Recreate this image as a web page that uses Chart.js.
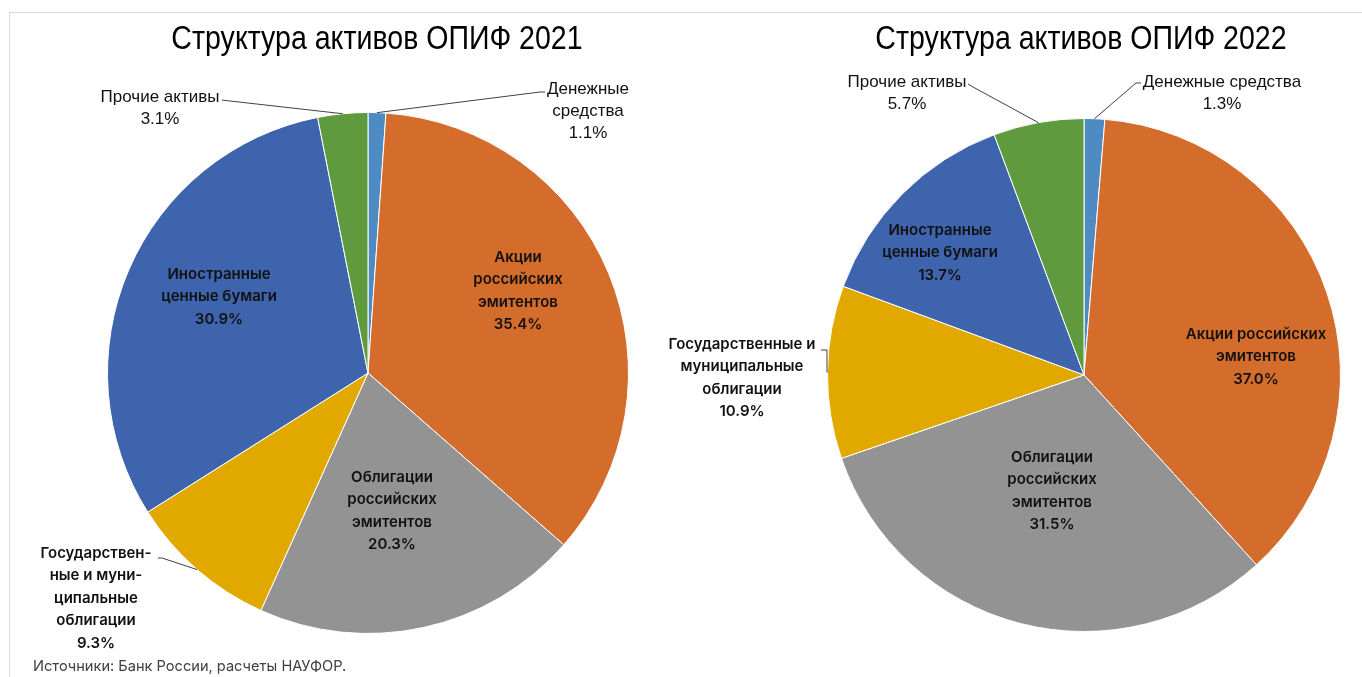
<!DOCTYPE html>
<html>
<head>
<meta charset="utf-8">
<script src="https://cdn.jsdelivr.net/npm/chart.js@4.4.1/dist/chart.umd.min.js"></script>
<style>
  html,body{margin:0;padding:0;background:#fff;width:1362px;height:677px;overflow:hidden;}
  #frame{position:absolute;left:9px;top:12px;width:1400px;height:700px;border-left:1px solid #d9d9d9;border-top:1px solid #d9d9d9;}
  .wrap{position:absolute;top:0;height:677px;}
  .title{position:absolute;top:19px;font-family:"Liberation Sans",sans-serif;font-size:33px;color:#000;white-space:nowrap;transform:translateX(-50%) scaleX(0.865);transform-origin:50% 50%;}
  #src{position:absolute;left:33px;top:657px;font-family:"Inter","Roboto",sans-serif;font-size:14.6px;color:#404040;white-space:nowrap;}
</style>
</head>
<body>
<div id="frame"></div>
<div class="wrap" style="left:0;width:681px"><canvas id="c1" width="681" height="677"></canvas></div>
<div class="wrap" style="left:600px;width:762px"><canvas id="c2" width="762" height="677"></canvas></div>
<div class="title" style="left:377px">Структура активов ОПИФ 2021</div>
<div class="title" style="left:1081px">Структура активов ОПИФ 2022</div>
<div id="src">Источники: Банк России, расчеты НАУФОР.</div>
<script>
// ---- data ----
const categories = ["Денежные средства","Акции российских эмитентов","Облигации российских эмитентов","Государственные и муниципальные облигации","Иностранные ценные бумаги","Прочие активы"];
const values2021 = [1.1, 35.4, 20.3, 9.3, 30.9, 3.1];
const values2022 = [1.3, 37.0, 31.5, 10.9, 13.7, 5.7];
const colors = ["#4F8BC3","#D46C2C","#939393","#E1A900","#3E64AD","#5F9A3E"];

// label text lines (per chart, per slice); percent appended
const labelLines2021 = [["Денежные","средства"],["Акции","российских","эмитентов"],["Облигации","российских","эмитентов"],["Государствен-","ные и муни-","ципальные","облигации"],["Иностранные","ценные бумаги"],["Прочие активы"]];
const labelLines2022 = [["Денежные средства"],["Акции российских","эмитентов"],["Облигации","российских","эмитентов"],["Государственные и","муниципальные","облигации"],["Иностранные","ценные бумаги"],["Прочие активы"]];

// label layout (canvas coords)
const layout2021 = [
  {x:588,y:89,narrow:true,lead:[[540,92],[545,92]]},
  {x:518,y:257},
  {x:392,y:477},
  {x:96,y:553,lead:[[162,558],[158,558]]},
  {x:219,y:274},
  {x:160,y:97,narrow:true,lead:[[230,101],[222,100]]}
];
const layout2022 = [
  {x:622,y:82,narrow:true,lead:[[536,83],[541,83]]},
  {x:656,y:334},
  {x:452,y:457},
  {x:142,y:344,lead:[[227,350],[221,350]],leadVertical:true},
  {x:340,y:230},
  {x:307,y:82,narrow:true,lead:[[373,87],[368,84]]}
];

const labelPlugin = {
  id:'sliceLabels',
  afterDatasetsDraw(chart, args, opts){
    const ctx = chart.ctx;
    const meta = chart.getDatasetMeta(0);
    const vals = chart.data.datasets[0].data;
    meta.data.forEach((arc, i) => {
      const L = opts.layout[i];
      const lines = opts.lines[i].concat([vals[i].toFixed(1) + '%']);
      const p = arc.getProps(['x','y','startAngle','endAngle','outerRadius'], true);
      ctx.save();
      if (L.lead) {
        const mid = (p.startAngle + p.endAngle) / 2;
        const sx = p.x + Math.cos(mid) * p.outerRadius;
        const sy = p.y + Math.sin(mid) * p.outerRadius;
        ctx.strokeStyle = '#404040';
        ctx.lineWidth = 1;
        ctx.beginPath();
        ctx.moveTo(sx, sy);
        if (L.leadVertical) ctx.lineTo(L.lead[0][0], sy);
        ctx.lineTo(L.lead[0][0], L.lead[0][1]);
        ctx.lineTo(L.lead[1][0], L.lead[1][1]);
        ctx.stroke();
      }
      ctx.fillStyle = '#111';
      ctx.textAlign = 'center';
      ctx.textBaseline = 'middle';
      let lh;
      if (L.narrow) {
        ctx.font = '17px "Liberation Sans",sans-serif';
        lh = 22;
      } else {
        ctx.font = '600 15px "Inter","Roboto",sans-serif';
        lh = 22.6;
      }
      lines.forEach((t, k) => ctx.fillText(t, L.x, L.y + k * lh));
      ctx.restore();
    });
  }
};

function makePie(id, values, lines, layout, pad){
  new Chart(document.getElementById(id), {
    type:'pie',
    data:{labels:categories, datasets:[{data:values, backgroundColor:colors, borderColor:'#ffffff', borderWidth:1}]},
    options:{
      responsive:false, animation:false, rotation:0,
      layout:{padding:pad},
      plugins:{legend:{display:false}, tooltip:{enabled:false}, sliceLabels:{lines:lines, layout:layout}}
    },
    plugins:[labelPlugin]
  });
}
makePie('c1', values2021, labelLines2021, layout2021, {left:107,right:52,top:112,bottom:43});
makePie('c2', values2022, labelLines2022, layout2022, {left:227,right:21,top:118,bottom:45});
</script>
</body>
</html>
